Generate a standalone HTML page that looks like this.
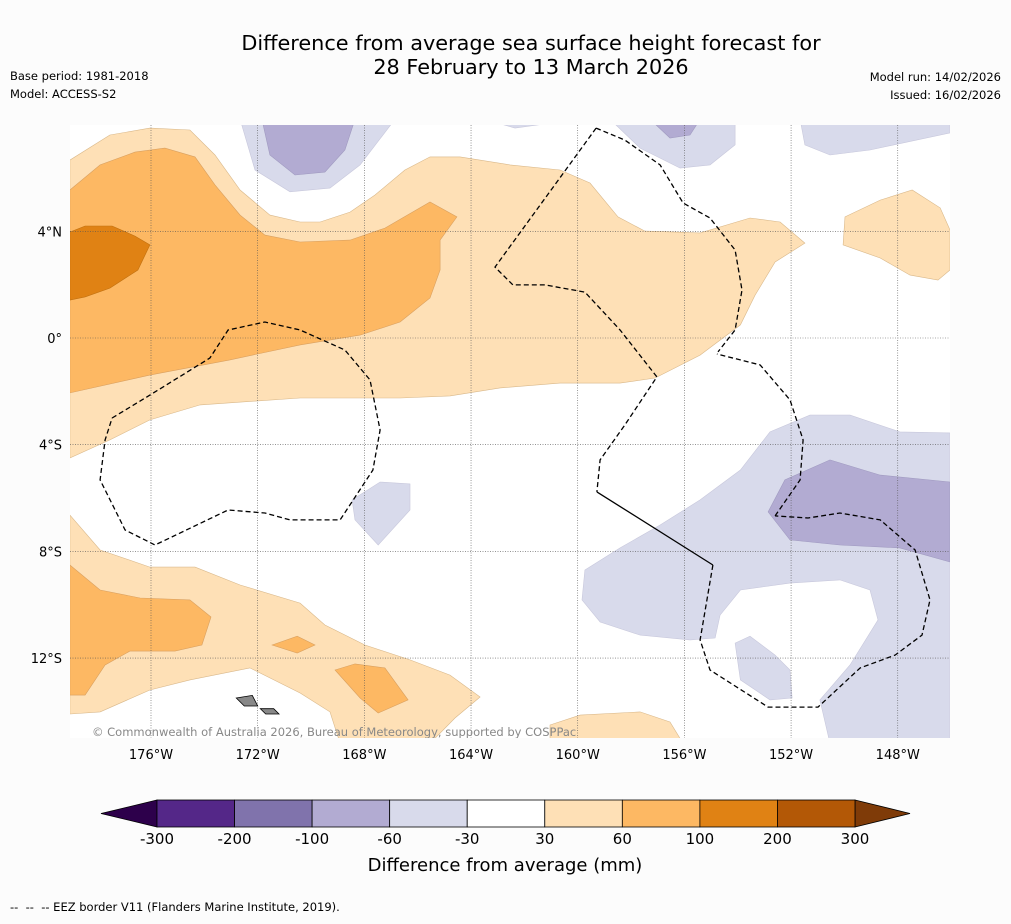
<!DOCTYPE html>
<html><head><meta charset="utf-8"><title>SSH forecast</title>
<style>
body{margin:0;background:#fcfcfc;font-family:"Liberation Sans",sans-serif;}
svg text{font-family:"DejaVu Sans","Liberation Sans",sans-serif;}
</style></head>
<body>
<svg id="chart" width="1011" height="919" viewBox="0 0 1011 919">
<rect x="0" y="0" width="1011" height="919" fill="#fcfcfc"/>
<text x="531" y="50" text-anchor="middle" font-size="20.8" fill="#000">Difference from average sea surface height forecast for</text>
<text x="531" y="74" text-anchor="middle" font-size="20.8" fill="#000">28 February to 13 March 2026</text>
<text x="10" y="80" font-size="11.5">Base period: 1981-2018</text>
<text x="10" y="98" font-size="11.5">Model: ACCESS-S2</text>
<text x="1001" y="81" font-size="11.5" text-anchor="end">Model run: 14/02/2026</text>
<text x="1001" y="99" font-size="11.5" text-anchor="end">Issued: 16/02/2026</text>
<defs><clipPath id="mapclip"><rect x="70" y="125" width="880" height="613"/></clipPath></defs>
<rect x="70" y="125" width="880" height="613" fill="#ffffff"/>
<g id="map" clip-path="url(#mapclip)"></g>
<g id="axes"></g>
<g id="cbar"></g>
<text x="505" y="871" text-anchor="middle" font-size="18">Difference from average (mm)</text>
<text x="10" y="911" font-size="11.5" xml:space="preserve">--  --  -- EEZ border V11 (Flanders Marine Institute, 2019).</text>
</svg>
<script>
const lonTicks=[-176,-172,-168,-164,-160,-156,-152,-148];
const latTicks=[4,0,-4,-8,-12];
const levelLabels=["-300","-200","-100","-60","-30","30","60","100","200","300"];
const levelColors=["#542788","#8073ac","#b2abd2","#d8daeb","#ffffff","#fee0b6","#fdb863","#e08214","#b35806"];
const extendLow="#2d004b", extendHigh="#7f3b08";

const lightOrange=[
[[-179.04,6.67],[-177.54,7.61],[-176.04,7.87],[-174.54,7.8],[-173.6,6.86],[-172.66,5.55],[-171.54,4.61],[-170.41,4.35],[-169.66,4.35],[-168.54,4.72],[-167.6,5.36],[-166.48,6.3],[-165.54,6.79],[-164.41,6.79],[-162.54,6.49],[-160.66,6.3],[-159.54,5.81],[-158.49,4.54],[-157.48,4.01],[-155.41,3.94],[-153.54,4.5],[-152.41,4.35],[-151.48,3.56],[-152.6,2.85],[-153.35,1.61],[-153.9,0.49],[-155.41,-0.64],[-157.1,-1.5],[-158.41,-1.69],[-160.66,-1.69],[-162.91,-1.87],[-164.79,-2.17],[-166.66,-2.25],[-170.41,-2.25],[-174.16,-2.51],[-176.04,-3.07],[-177.54,-3.82],[-179.04,-4.5]],
[[-179.04,-6.64],[-177.91,-7.95],[-176.04,-8.59],[-174.35,-8.59],[-172.66,-9.26],[-170.41,-9.94],[-169.48,-10.76],[-167.98,-11.51],[-166.29,-12.07],[-164.79,-12.64],[-163.66,-13.46],[-164.6,-14.25],[-165.54,-15.2],[-168.91,-15.2],[-169.29,-14.02],[-170.41,-13.31],[-172.29,-12.37],[-174.54,-12.82],[-176.04,-13.2],[-177.91,-14.02],[-179.04,-14.1]],
[[-161.04,-14.51],[-159.91,-14.14],[-157.66,-14.02],[-156.54,-14.4],[-156.05,-15.2],[-161.04,-15.2]],
[[-149.98,4.54],[-148.66,5.17],[-147.46,5.55],[-146.41,4.88],[-146.04,4.05],[-146.04,2.55],[-146.49,2.17],[-147.54,2.36],[-148.66,3],[-150.05,3.49]]
];
const mediumOrange=[
[[-179.04,5.55],[-177.91,6.49],[-176.6,6.97],[-175.48,7.12],[-174.35,6.79],[-173.6,5.74],[-172.66,4.61],[-171.73,3.86],[-170.41,3.6],[-168.54,3.67],[-167.23,4.12],[-165.54,5.1],[-164.53,4.54],[-165.16,3.67],[-165.16,2.55],[-165.54,1.5],[-166.66,0.6],[-168.16,0.11],[-170.41,-0.26],[-173.04,-0.82],[-176.04,-1.39],[-179.04,-2.06]],
[[-179.04,-8.51],[-177.91,-9.45],[-176.41,-9.75],[-174.54,-9.82],[-173.75,-10.46],[-174.09,-11.51],[-175.1,-11.74],[-176.79,-11.74],[-177.72,-12.26],[-178.47,-13.39],[-179.04,-13.39]],
[[-171.46,-11.51],[-170.52,-11.18],[-169.85,-11.51],[-170.52,-11.81]],
[[-169.1,-12.45],[-168.35,-12.22],[-167.23,-12.37],[-166.36,-13.57],[-167.48,-14.06],[-168.16,-13.5]]
];
const darkOrange=[
[[-179.04,3.97],[-178.47,4.2],[-177.46,4.2],[-176.6,3.82],[-176.04,3.49],[-176.49,2.55],[-177.54,1.87],[-178.47,1.54],[-179.04,1.42]]
];
const lightPurple=[
[[-172.66,8.2],[-172.1,6.3],[-170.79,5.48],[-169.29,5.62],[-168.16,6.49],[-166.85,8.2]],
[[-158.79,8.2],[-157.66,7.12],[-156.16,6.37],[-155.04,6.49],[-154.1,7.24],[-154.1,8.2]],
[[-151.66,8.2],[-151.48,7.24],[-150.54,6.86],[-149.04,7.05],[-146.04,7.69],[-146.04,8.2]],
[[-162.8,8.0],[-162.35,7.87],[-161.41,8.0]],
[[-168.46,-6.07],[-167.41,-5.4],[-166.29,-5.47],[-166.29,-6.45],[-167.48,-7.76],[-168.35,-6.82]],
[[-159.73,-8.7],[-158.41,-7.87],[-156.91,-7.01],[-155.41,-6.07],[-153.9,-4.95],[-152.79,-3.52],[-151.29,-2.89],[-149.79,-2.89],[-147.92,-3.52],[-146.04,-3.56],[-146.04,-15.2],[-150.54,-15.2],[-150.92,-13.57],[-149.79,-12.26],[-148.74,-10.57],[-149.04,-9.45],[-150.17,-9.07],[-152.04,-9.19],[-153.9,-9.45],[-154.66,-10.39],[-154.85,-11.25],[-155.79,-11.32],[-157.66,-11.14],[-159.16,-10.65],[-159.84,-9.82]],
[[-154.1,-11.44],[-153.54,-11.18],[-152.6,-11.89],[-152.04,-12.45],[-151.96,-13.5],[-152.79,-13.57],[-153.9,-12.82]]
];
const mediumPurple=[
[[-171.84,8.2],[-171.54,6.86],[-170.6,6.11],[-169.48,6.22],[-168.73,7.05],[-168.35,8.2]],
[[-157.29,8.2],[-156.54,7.5],[-155.79,7.61],[-155.41,8.2]],
[[-152.86,-6.52],[-152.23,-5.32],[-150.54,-4.57],[-148.66,-5.14],[-146.04,-5.4],[-146.04,-8.4],[-147.92,-7.87],[-150.17,-7.76],[-152.04,-7.57]]
];
const eezDashed=[
[[-177.46,-3],[-176.04,-2.14],[-173.79,-0.75],[-173.11,0.3],[-171.73,0.6],[-170.41,0.3],[-168.73,-0.45],[-167.79,-1.57],[-167.41,-3.45],[-167.68,-4.95],[-168.91,-6.82],[-170.79,-6.82],[-171.73,-6.56],[-173.11,-6.45],[-175.85,-7.76],[-176.97,-7.2],[-177.91,-5.32],[-177.72,-3.82],[-177.46,-3]],
[[-159.31,7.87],[-158.23,7.42],[-156.91,6.49],[-156.05,5.06],[-155.04,4.5],[-154.1,3.3],[-153.84,1.8],[-154.1,0.3],[-154.74,-0.52]],
[[-159.31,7.87],[-163.1,2.66],[-162.43,1.99],[-161.23,1.99],[-159.73,1.72],[-158.41,0.3],[-157.03,-1.46],[-158.23,-3.26],[-159.16,-4.57],[-159.28,-5.77]],
[[-154.93,-8.51],[-155.41,-11.32],[-155.04,-12.45],[-152.86,-13.84],[-150.99,-13.84],[-149.41,-12.37],[-148.1,-11.89],[-147.09,-11.14],[-146.79,-9.82],[-147.35,-7.95],[-148.66,-6.82],[-150.17,-6.56],[-151.36,-6.75],[-152.6,-6.67]],
[[-152.6,-6.67],[-151.66,-5.32],[-151.55,-3.82],[-152.04,-2.32],[-153.16,-1.01],[-154.78,-0.6]]
];
const eezSolid=[[[-159.28,-5.77],[-154.93,-8.51]]];

const NS="http://www.w3.org/2000/svg";
const xOf=lon=>151+(lon+176)*26.67;
const yOf=lat=>338-lat*26.67;
function pts(arr){return arr.map(p=>xOf(p[0]).toFixed(1)+","+yOf(p[1]).toFixed(1)).join(" ");}
const map=document.getElementById("map");
function addPolys(list,fill,stroke,name){
  list.forEach(poly=>{
    const el=document.createElementNS(NS,"polygon");
    el.setAttribute("points",pts(poly));
    el.setAttribute("fill",fill);
    el.setAttribute("stroke",stroke);
    el.setAttribute("stroke-width","0.6");
    
    
    map.appendChild(el);
  });
}
addPolys(lightOrange,"#fee0b6","#d9b88a","contour-30-60mm");
addPolys(mediumOrange,"#fdb863","#d9a060","contour-60-100mm");
addPolys(darkOrange,"#e08214","#c07010","contour-100-200mm");
addPolys(lightPurple,"#d8daeb","#c8c8dc","contour-neg30-neg60mm");
addPolys(mediumPurple,"#b2abd2","#a09ac0","contour-neg60-neg100mm");

lonTicks.forEach(l=>{
  const ln=document.createElementNS(NS,"line");
  ln.setAttribute("x1",xOf(l));ln.setAttribute("x2",xOf(l));ln.setAttribute("y1",125);ln.setAttribute("y2",738);
  ln.setAttribute("stroke","#555");ln.setAttribute("stroke-width","0.6");ln.setAttribute("stroke-dasharray","1,1.5");
  
  
  map.appendChild(ln);
});
latTicks.forEach(l=>{
  const ln=document.createElementNS(NS,"line");
  ln.setAttribute("x1",70);ln.setAttribute("x2",950);ln.setAttribute("y1",yOf(l));ln.setAttribute("y2",yOf(l));
  ln.setAttribute("stroke","#555");ln.setAttribute("stroke-width","0.6");ln.setAttribute("stroke-dasharray","1,1.5");
  
  
  map.appendChild(ln);
});
eezDashed.forEach(line=>{
  const el=document.createElementNS(NS,"polyline");
  el.setAttribute("points",pts(line));el.setAttribute("fill","none");el.setAttribute("stroke","#000");
  el.setAttribute("stroke-width","1.3");el.setAttribute("stroke-dasharray","5,3");
  
  
  map.appendChild(el);
});
eezSolid.forEach(line=>{
  const el=document.createElementNS(NS,"polyline");
  el.setAttribute("points",pts(line));el.setAttribute("fill","none");el.setAttribute("stroke","#000");el.setAttribute("stroke-width","1.3");
  
  
  map.appendChild(el);
});
[[[-172.8,-13.5],[-172.2,-13.4],[-172.0,-13.8],[-172.5,-13.8]],[[-171.9,-13.9],[-171.4,-13.9],[-171.2,-14.1],[-171.7,-14.1]]].forEach(p=>{
  const el=document.createElementNS(NS,"polygon");
  el.setAttribute("points",pts(p));el.setAttribute("fill","#888");el.setAttribute("stroke","#000");el.setAttribute("stroke-width","0.8");
  
  
  map.appendChild(el);
});
const cp=document.createElementNS(NS,"text");
cp.setAttribute("x",92);cp.setAttribute("y",736);cp.setAttribute("font-size","11.5");cp.setAttribute("fill","#888");
cp.textContent="© Commonwealth of Australia 2026, Bureau of Meteorology, supported by COSPPac";


map.appendChild(cp);

const axes=document.getElementById("axes");
lonTicks.forEach(l=>{
  const t=document.createElementNS(NS,"text");
  t.setAttribute("x",xOf(l));t.setAttribute("y",759);t.setAttribute("text-anchor","middle");t.setAttribute("font-size","13");
  t.textContent=Math.abs(l)+"°W";
  
  
  axes.appendChild(t);
});
latTicks.forEach(l=>{
  const t=document.createElementNS(NS,"text");
  t.setAttribute("x",62);t.setAttribute("y",yOf(l)+5);t.setAttribute("text-anchor","end");t.setAttribute("font-size","13");
  t.textContent=l===0?"0°":Math.abs(l)+"°"+(l>0?"N":"S");
  
  
  axes.appendChild(t);
});

const cb=document.getElementById("cbar");
const cx0=157,cx1=855,cy=800,ch=27;
const segW=(cx1-cx0)/levelColors.length;
const lo=document.createElementNS(NS,"polygon");
lo.setAttribute("points",`${cx0},${cy} ${cx0},${cy+ch} 101,${cy+ch/2}`);lo.setAttribute("fill",extendLow);lo.setAttribute("stroke","#000");lo.setAttribute("stroke-width","0.8");


cb.appendChild(lo);
const hi=document.createElementNS(NS,"polygon");
hi.setAttribute("points",`${cx1},${cy} ${cx1},${cy+ch} 910,${cy+ch/2}`);hi.setAttribute("fill",extendHigh);hi.setAttribute("stroke","#000");hi.setAttribute("stroke-width","0.8");


cb.appendChild(hi);
levelColors.forEach((c,i)=>{
  const r=document.createElementNS(NS,"rect");
  r.setAttribute("x",cx0+i*segW);r.setAttribute("y",cy);r.setAttribute("width",segW);r.setAttribute("height",ch);
  r.setAttribute("fill",c);r.setAttribute("stroke","#000");r.setAttribute("stroke-width","0.8");
  
  
  cb.appendChild(r);
});
levelLabels.forEach((s,i)=>{
  const t=document.createElementNS(NS,"text");
  t.setAttribute("x",cx0+i*segW);t.setAttribute("y",844);t.setAttribute("text-anchor","middle");t.setAttribute("font-size","15");
  t.textContent=s;
  
  
  cb.appendChild(t);
});
</script>
</body></html>
